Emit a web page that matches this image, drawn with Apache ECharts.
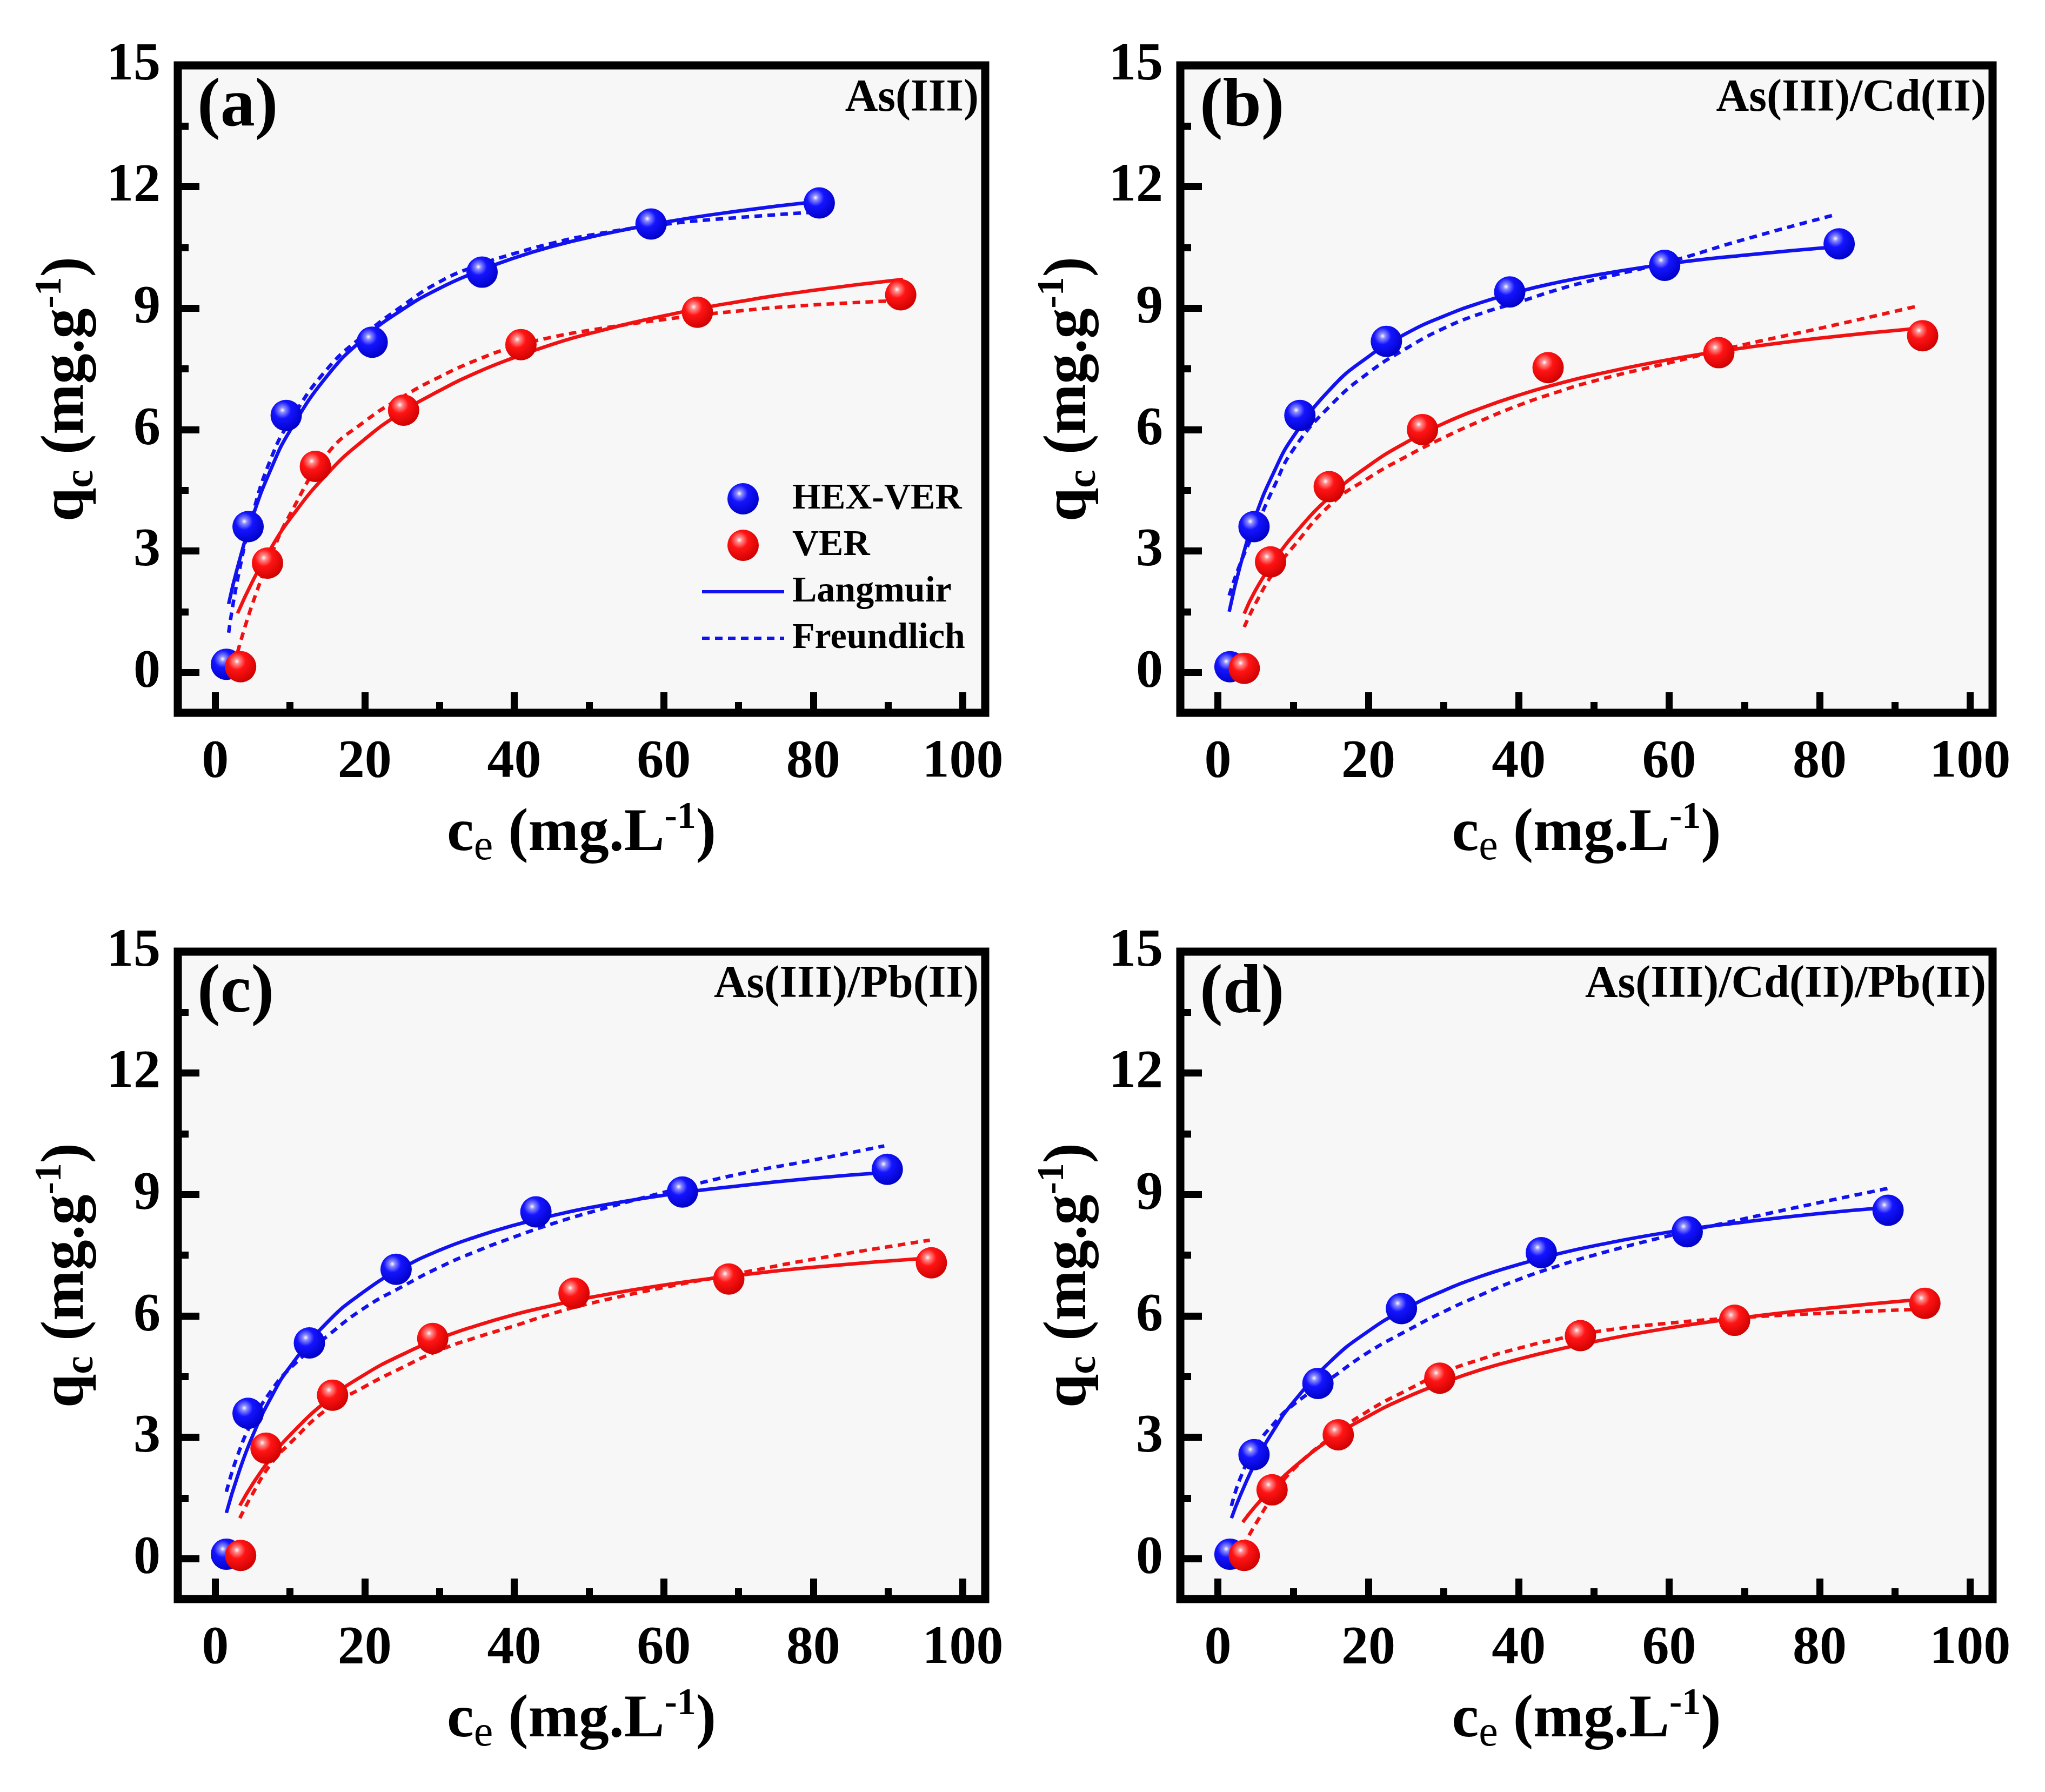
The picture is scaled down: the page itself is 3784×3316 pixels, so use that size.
<!DOCTYPE html>
<html>
  <head>
    <meta charset="UTF-8" />
    <title></title>
    <style type="text/css">
      * {
        margin: 0;
        padding: 0;
      }
      body {
        background-color: #fff;
      }
      #main {
        width: 3784px;
        height: 3316px;
      }
    </style>
  </head>

  <body>
    <div id="main"></div>
  </body>
  <script src="https://cdn.jsdelivr.net/npm/echarts@6/dist/echarts.min.js"></script>
  <script type="text/javascript">
    // (a) As(III)
    var aHexCe = [1.5, 4.4, 9.5, 21.0, 35.7, 58.3, 80.8]
    var aHexQe = [0.2, 3.6, 6.35, 8.16, 9.89, 11.08, 11.6]
    var aVerCe = [3.4, 7.0, 13.4, 25.2, 40.9, 64.5, 91.7]
    var aVerQe = [0.14, 2.7, 5.09, 6.48, 8.1, 8.9, 9.33]
    var aHexFitCe = [1.8, 3, 5, 7.5, 10, 15, 20, 25, 30, 35, 40, 45, 50, 60, 70, 80.8]
    var aHexLang = [1.69, 2.6, 3.84, 5.04, 5.97, 7.33, 8.27, 8.96, 9.49, 9.9, 10.24, 10.52, 10.75, 11.12, 11.4, 11.64]
    var aHexFreu = [0.98, 2.3, 3.9, 5.3, 6.2, 7.5, 8.35, 9.05, 9.65, 10.05, 10.35, 10.6, 10.8, 11.07, 11.24, 11.38]
    var aVerFitCe = [3, 5, 7.5, 10, 15, 20, 25, 30, 35, 40, 45, 50, 60, 70, 80, 92]
    var aVerLang = [1.46, 2.25, 3.08, 3.79, 4.91, 5.76, 6.43, 6.96, 7.41, 7.78, 8.1, 8.37, 8.81, 9.16, 9.44, 9.71]
    var aVerFreu = [0.5, 1.7, 2.9, 3.9, 5.4, 6.2, 6.8, 7.3, 7.72, 8.05, 8.28, 8.45, 8.72, 8.93, 9.08, 9.19]

    // (b) As(III)/Cd(II)
    var bHexCe = [1.6, 4.8, 10.9, 22.4, 38.8, 59.4, 82.6]
    var bHexQe = [0.14, 3.6, 6.35, 8.18, 9.4, 10.06, 10.59]
    var bVerCe = [3.5, 7.0, 14.8, 27.2, 43.9, 66.6, 93.7]
    var bVerQe = [0.1, 2.73, 4.59, 6.0, 7.53, 7.9, 8.32]
    var bHexFitCe = [1.5, 3, 5, 7.5, 10, 15, 20, 25, 30, 35, 40, 45, 50, 60, 70, 82.3]
    var bHexLang = [1.5, 2.66, 3.86, 4.97, 5.82, 7.01, 7.8, 8.37, 8.8, 9.14, 9.41, 9.63, 9.81, 10.1, 10.31, 10.52]
    var bHexFreu = [1.9, 2.7, 3.55, 4.6, 5.5, 6.6, 7.4, 8.0, 8.5, 8.87, 9.15, 9.45, 9.7, 10.15, 10.7, 11.32]
    var bVerFitCe = [3.5, 5, 7.5, 10, 15, 20, 25, 30, 35, 40, 45, 50, 60, 70, 80, 93]
    var bVerLang = [1.45, 2.03, 2.76, 3.38, 4.36, 5.1, 5.68, 6.15, 6.53, 6.85, 7.12, 7.35, 7.73, 8.02, 8.26, 8.5]
    var bVerFreu = [1.12, 1.7, 2.5, 3.1, 4.15, 4.8, 5.33, 5.8, 6.22, 6.6, 6.92, 7.2, 7.65, 8.1, 8.5, 9.05]

    // (c) As(III)/Pb(II)
    var cHexCe = [1.5, 4.4, 12.6, 24.2, 42.9, 62.5, 89.9]
    var cHexQe = [0.11, 3.59, 5.33, 7.15, 8.57, 9.06, 9.62]
    var cVerCe = [3.4, 6.8, 15.7, 29.1, 48.0, 68.7, 95.8]
    var cVerQe = [0.08, 2.73, 4.04, 5.44, 6.56, 6.91, 7.31]
    var cHexFitCe = [1.5, 3, 5, 7.5, 10, 15, 20, 25, 30, 35, 40, 45, 50, 60, 70, 80, 89.5]
    var cHexLang = [1.13, 2.04, 3.03, 3.99, 4.74, 5.84, 6.61, 7.18, 7.62, 7.96, 8.24, 8.47, 8.67, 8.98, 9.21, 9.4, 9.54]
    var cHexFreu = [1.65, 2.55, 3.4, 4.15, 4.7, 5.5, 6.2, 6.72, 7.2, 7.6, 7.95, 8.27, 8.55, 9.05, 9.5, 9.85, 10.2]
    var cVerFitCe = [3.3, 5, 7.5, 10, 15, 20, 25, 30, 35, 40, 45, 50, 60, 70, 80, 95.6]
    var cVerLang = [1.31, 1.84, 2.5, 3.05, 3.91, 4.55, 5.04, 5.44, 5.76, 6.03, 6.25, 6.45, 6.76, 7.0, 7.2, 7.43]
    var cVerFreu = [1.0, 1.6, 2.35, 2.85, 3.7, 4.25, 4.72, 5.15, 5.47, 5.75, 6.05, 6.3, 6.7, 7.05, 7.4, 7.87]

    // (d) As(III)/Cd(II)/Pb(II)
    var dHexCe = [1.6, 4.8, 13.3, 24.4, 43.0, 62.4, 89.1]
    var dHexQe = [0.11, 2.57, 4.33, 6.18, 7.56, 8.08, 8.61]
    var dVerCe = [3.5, 7.2, 16.0, 29.5, 48.2, 68.7, 94.0]
    var dVerQe = [0.08, 1.7, 3.06, 4.46, 5.51, 5.89, 6.31]
    var dHexFitCe = [1.8, 3, 5, 7.5, 10, 15, 20, 25, 30, 35, 40, 45, 50, 60, 70, 80, 89.1]
    var dHexLang = [1.0, 1.57, 2.38, 3.2, 3.86, 4.88, 5.62, 6.18, 6.62, 6.98, 7.27, 7.52, 7.73, 8.07, 8.32, 8.53, 8.68]
    var dHexFreu = [1.3, 2.0, 2.75, 3.35, 3.8, 4.45, 5.1, 5.62, 6.1, 6.52, 6.9, 7.22, 7.5, 7.98, 8.4, 8.8, 9.15]
    var dVerFitCe = [3.3, 5, 7.5, 10, 15, 20, 25, 30, 35, 40, 45, 50, 60, 70, 80, 94.2]
    var dVerLang = [0.9, 1.3, 1.8, 2.24, 2.96, 3.52, 3.98, 4.35, 4.67, 4.93, 5.16, 5.36, 5.7, 5.96, 6.17, 6.42]
    var dVerFreu = [0.3, 0.85, 1.6, 2.2, 3.0, 3.65, 4.15, 4.6, 4.93, 5.2, 5.42, 5.6, 5.82, 5.96, 6.06, 6.17]

    var xTicks = [0, 20, 40, 60, 80, 100]
    var xMinorTicks = [10, 30, 50, 70, 90]
    var yTicks = [0, 3, 6, 9, 12, 15]
    var yMinorTicks = [1.5, 4.5, 7.5, 10.5, 13.5]
    var panelTags = ['(a)', '(b)', '(c)', '(d)']
    var panelTitles = ['As(III)', 'As(III)/Cd(II)', 'As(III)/Pb(II)', 'As(III)/Cd(II)/Pb(II)']

    var panels = [
      [aHexCe, aHexQe, aVerCe, aVerQe, aHexFitCe, aHexLang, aHexFreu, aVerFitCe, aVerLang, aVerFreu],
      [bHexCe, bHexQe, bVerCe, bVerQe, bHexFitCe, bHexLang, bHexFreu, bVerFitCe, bVerLang, bVerFreu],
      [cHexCe, cHexQe, cVerCe, cVerQe, cHexFitCe, cHexLang, cHexFreu, cVerFitCe, cVerLang, cVerFreu],
      [dHexCe, dHexQe, dVerCe, dVerQe, dHexFitCe, dHexLang, dHexFreu, dVerFitCe, dVerLang, dVerFreu]
    ]

    var font = "'Liberation Serif', 'Times New Roman', serif"
    var gridLeft = [329, 2184, 329, 2184]
    var gridTop = [121, 121, 1761, 1761]
    var gridWidth = [1494, 1503, 1494, 1503]
    var gridHeight = 1198

    var blueBall = new echarts.graphic.RadialGradient(0.38, 0.33, 0.72, [
      { offset: 0, color: '#ffffff' },
      { offset: 0.12, color: '#8c8cff' },
      { offset: 0.38, color: '#1414ff' },
      { offset: 1, color: '#0000c4' }
    ])
    var redBall = new echarts.graphic.RadialGradient(0.38, 0.33, 0.72, [
      { offset: 0, color: '#ffffff' },
      { offset: 0.12, color: '#ff8c8c' },
      { offset: 0.38, color: '#ff1414' },
      { offset: 1, color: '#cc0000' }
    ])

    function pairs(xs, ys) {
      return xs.map(function (x, i) {
        return [x, ys[i]]
      })
    }

    var nameRich = {
      m: { fontSize: 112, fontWeight: 'bold', fontFamily: font, color: '#000', lineHeight: 130 },
      sb: { fontSize: 76, fontWeight: 'bold', fontFamily: font, color: '#000', lineHeight: 44, verticalAlign: 'bottom' },
      s: { fontSize: 80, fontWeight: 'normal', fontFamily: font, color: '#000', lineHeight: 40, verticalAlign: 'bottom' },
      p: { fontSize: 70, fontWeight: 'bold', fontFamily: font, color: '#000', lineHeight: 40, verticalAlign: 'top' }
    }
    var labelStyle = { color: '#000', fontFamily: font, fontWeight: 'bold', fontSize: 100 }
    var tickLine = { color: '#000', width: 13 }

    var grids = []
    var xAxes = []
    var yAxes = []
    var series = []
    var graphics = []

    panels.forEach(function (p, i) {
      grids.push({
        left: gridLeft[i],
        top: gridTop[i],
        width: gridWidth[i],
        height: gridHeight,
        show: true,
        backgroundColor: '#f7f7f7',
        borderColor: '#000',
        borderWidth: 15
      })
      // main x axis with labels and major ticks
      xAxes.push({
        type: 'value', gridIndex: i, min: -5, max: 103, position: 'bottom',
        axisLine: { show: false, onZero: false },
        splitLine: { show: false },
        axisTick: { show: true, inside: true, length: 38, customValues: xTicks, lineStyle: tickLine },
        axisLabel: { show: true, margin: 42, customValues: xTicks, ...labelStyle },
        name: '{m|c}{s|e}{m| (mg.L}{p|-1}{m|)}',
        nameLocation: 'middle',
        nameGap: 160,
        nameTextStyle: { rich: nameRich }
      })
      // minor x ticks
      xAxes.push({
        type: 'value', gridIndex: i, min: -5, max: 103, position: 'bottom',
        axisLine: { show: false, onZero: false },
        splitLine: { show: false },
        axisLabel: { show: false },
        axisTick: { show: true, inside: true, length: 20, customValues: xMinorTicks, lineStyle: tickLine }
      })
      yAxes.push({
        type: 'value', gridIndex: i, min: -1, max: 15, position: 'left',
        axisLine: { show: false, onZero: false },
        splitLine: { show: false },
        axisTick: { show: true, inside: true, length: 40, customValues: yTicks, lineStyle: tickLine },
        axisLabel: { show: true, margin: 32, customValues: yTicks, ...labelStyle },
        name: '{m|q}{sb|c}{m| (mg.g}{p|-1}{m|)}',
        nameLocation: 'middle',
        nameRotate: 90,
        nameGap: 140,
        nameTextStyle: { rich: nameRich }
      })
      yAxes.push({
        type: 'value', gridIndex: i, min: -1, max: 15, position: 'left',
        axisLine: { show: false, onZero: false },
        splitLine: { show: false },
        axisLabel: { show: false },
        axisTick: { show: true, inside: true, length: 20, customValues: yMinorTicks, lineStyle: tickLine }
      })

      var xi = i * 2
      var fits = [
        { name: 'Langmuir', xs: p[4], ys: p[5], color: '#1212f0', type: 'solid' },
        { name: 'Freundlich', xs: p[4], ys: p[6], color: '#1212f0', type: [14, 10] },
        { name: 'Langmuir VER', xs: p[7], ys: p[8], color: '#f01212', type: 'solid' },
        { name: 'Freundlich VER', xs: p[7], ys: p[9], color: '#f01212', type: [14, 10] }
      ]
      fits.forEach(function (f) {
        series.push({
          name: f.name,
          type: 'line',
          xAxisIndex: xi,
          yAxisIndex: xi,
          data: pairs(f.xs, f.ys),
          smooth: 0.5,
          symbol: 'none',
          showSymbol: false,
          z: 2,
          itemStyle: { color: f.color },
          lineStyle: { color: f.color, width: 6.5, type: f.type }
        })
      })
      series.push({
        name: 'HEX-VER',
        type: 'scatter',
        xAxisIndex: xi,
        yAxisIndex: xi,
        data: pairs(p[0], p[1]),
        symbol: 'circle',
        symbolSize: 58,
        z: 3,
        itemStyle: { color: blueBall, opacity: 1 }
      })
      series.push({
        name: 'VER',
        type: 'scatter',
        xAxisIndex: xi,
        yAxisIndex: xi,
        data: pairs(p[2], p[3]),
        symbol: 'circle',
        symbolSize: 58,
        z: 4,
        itemStyle: { color: redBall, opacity: 1 }
      })

      graphics.push({
        type: 'text',
        x: gridLeft[i] + 36,
        y: gridTop[i] + 78,
        z: 10,
        style: {
          text: panelTags[i],
          fill: '#000',
          font: 'bold 128px ' + font,
          align: 'left',
          verticalAlign: 'middle'
        }
      })
      graphics.push({
        type: 'text',
        x: gridLeft[i] + gridWidth[i] - 12,
        y: gridTop[i] + 62,
        z: 10,
        style: {
          text: panelTitles[i],
          fill: '#000',
          font: 'bold 84px ' + font,
          align: 'right',
          verticalAlign: 'middle'
        }
      })
    })

    var myCharts = echarts.init(document.getElementById('main'))
    var option = {
      animation: false,
      backgroundColor: '#fff',
      grid: grids,
      xAxis: xAxes,
      yAxis: yAxes,
      legend: {
        orient: 'vertical',
        left: 1291,
        top: 884,
        itemWidth: 152,
        itemHeight: 58,
        itemGap: 18,
        selectedMode: false,
        data: [
          { name: 'HEX-VER', icon: 'circle' },
          { name: 'VER', icon: 'circle' },
          { name: 'Langmuir', itemStyle: { opacity: 0 }, lineStyle: { width: 6 } },
          { name: 'Freundlich', itemStyle: { opacity: 0 }, lineStyle: { width: 6 } }
        ],
        textStyle: {
          color: '#000',
          fontFamily: font,
          fontWeight: 'bold',
          fontSize: 68,
          padding: [0, 0, 0, 10]
        }
      },
      graphic: graphics,
      series: series
    }
    myCharts.setOption(option)
  </script>
</html>
